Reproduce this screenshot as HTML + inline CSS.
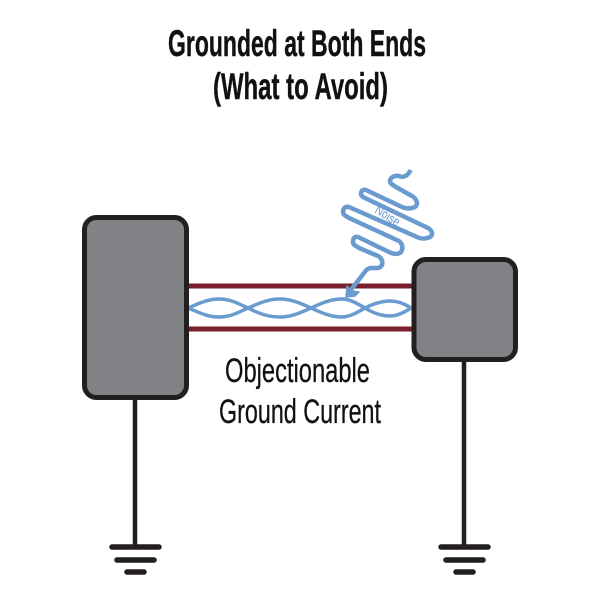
<!DOCTYPE html>
<html>
<head>
<meta charset="utf-8">
<style>
html,body{margin:0;padding:0;background:#fff;width:600px;height:600px;overflow:hidden}
svg{display:block}
text{font-family:"Liberation Sans Narrow","Liberation Sans",sans-serif}
</style>
</head>
<body>
<svg width="600" height="600" viewBox="0 0 600 600" xmlns="http://www.w3.org/2000/svg">
<rect width="600" height="600" fill="#fff"/>
<text x="168" y="56" font-size="37" font-weight="700" fill="#111" stroke="#111" stroke-width="0.4" textLength="258" lengthAdjust="spacingAndGlyphs">Grounded at Both Ends</text>
<text x="213" y="99" font-size="37" font-weight="700" fill="#111" stroke="#111" stroke-width="0.4" textLength="175" lengthAdjust="spacingAndGlyphs">(What to Avoid)</text>

<line x1="187" y1="286" x2="414" y2="286" stroke="#7a1f2b" stroke-width="5"/>
<line x1="187" y1="329" x2="414" y2="329" stroke="#7a1f2b" stroke-width="5"/>

<g fill="none" stroke="#6a9bcf" stroke-width="3.5">
<path d="M188 308C200 303 208 299 219 299C231 299 239 304 248 308C258 313 267 317 280 317C292 317 302 312 311 308C320 304 330 299 342 299C350 299 358 304 365 308C373 313 381 316 390 316C398 316 405 312 411 308"/>
<path d="M188 308C200 313 208 317 219 317C231 317 239 312 248 308C258 304 267 299 280 299C292 299 302 304 311 308C320 312 330 317 342 317C350 317 358 312 365 308C373 304 381 301 390 301C398 301 405 304 411 308"/>
</g>

<path d="M410.5 170C408 176 403 178 399 176C394 175 390 178 390 181C390 184 393 185 396 187L412 196C417 199 418 204 416 206C413 209 406 209 402 207L366 190C362 189 361 192 361 194C361 196 363 197 365 198L428 228C433 231 433 235 430 237C426 239 421 239 417 237L349 207C345 206 343 209 343 212C343 215 346 216 349 218L399 241C403 244 403 249 401 252C398 255 393 254 389 252L358 237C354 236 353 239 353 242C353 245 356 246 359 248L378 256C382 258 383 262 382 265C380 269 376 268 371 268C368 268 366 270 364 273L350 291" fill="none" stroke="#6a9bcf" stroke-width="4.5" stroke-linejoin="round"/>
<path d="M346 297L347 286L352 291L359 292L355 296Z" fill="#6a9bcf" stroke="#6a9bcf" stroke-width="1.5" stroke-linejoin="round"/>
<text transform="translate(374 212) rotate(33)" font-size="13" fill="#6a9bcf" textLength="27" lengthAdjust="spacingAndGlyphs">Noise</text>

<line x1="135" y1="396" x2="135" y2="547" stroke="#231f20" stroke-width="4.5"/>
<line x1="464" y1="360" x2="464" y2="547" stroke="#231f20" stroke-width="4.5"/>
<g stroke="#231f20" stroke-width="5.5" stroke-linecap="round">
<line x1="112" y1="547" x2="159" y2="547"/>
<line x1="117" y1="560" x2="154" y2="560"/>
<line x1="127" y1="572" x2="144" y2="572"/>
<line x1="441" y1="547" x2="488" y2="547"/>
<line x1="446" y1="560" x2="483" y2="560"/>
<line x1="456" y1="572" x2="473" y2="572"/>
</g>

<rect x="84.5" y="217.5" width="102" height="180" rx="12" fill="#808285" stroke="#231f20" stroke-width="5"/>
<rect x="414" y="259.5" width="101.5" height="100" rx="12" fill="#808285" stroke="#231f20" stroke-width="5"/>

<text x="225" y="382" font-size="34" fill="#111" stroke="#111" stroke-width="0.3" textLength="145" lengthAdjust="spacingAndGlyphs">Objectionable</text>
<text x="219" y="423" font-size="34" fill="#111" stroke="#111" stroke-width="0.3" textLength="162" lengthAdjust="spacingAndGlyphs">Ground Current</text>
</svg>
</body>
</html>
